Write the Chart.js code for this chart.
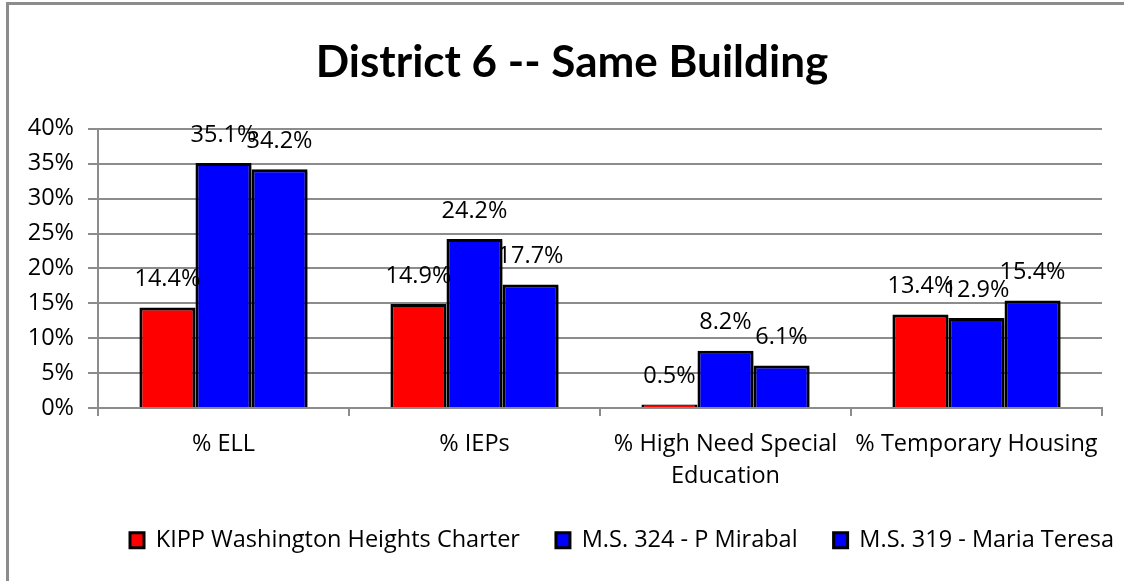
<!DOCTYPE html>
<html>
<head>
<meta charset="utf-8">
<script src="https://cdn.jsdelivr.net/npm/chart.js@4/dist/chart.umd.min.js"></script>
<style>
  body { margin: 0; background: #fff; }
  #wrap { position: relative; width: 1124px; height: 581px; }
  #frame { position: absolute; left: 6px; top: 2px; width: 1200px; height: 700px;
           border-left: 3px solid #8c8c8c; border-top: 3px solid #8c8c8c; }
  canvas { position: absolute; left: 0; top: 0; }
</style>
</head>
<body>
<div id="wrap">
  <div id="frame"></div>
  <canvas id="chart" width="1124" height="581"></canvas>
</div>
<script>
var categories = ["% ELL", "% IEPs", ["% High Need Special", "Education"], "% Temporary Housing"];
var schoolNames = ["KIPP Washington Heights Charter", "M.S. 324 - P Mirabal", "M.S. 319 - Maria Teresa"];
var kippValues = [14.4, 14.9, 0.5, 13.4];
var ms324Values = [35.1, 24.2, 8.2, 12.9];
var ms319Values = [34.2, 17.7, 6.1, 15.4];
var barColors = ["#ff0000", "#0000ff", "#0000ff"];

var fontFamily = "'Open Sans', sans-serif";
var titleFamily = "Lato, sans-serif";
var textSize = 23.5;
var gridGray = "#8c8c8c";

// soft shadow under the bars, then the value above every bar
var valueLabels = {
    id: 'valueLabels',
    beforeDatasetsDraw: function (chart) {
        var ctx = chart.ctx;
        ctx.save();
        ctx.shadowColor = "rgba(0,0,0,0.3)";
        ctx.shadowOffsetX = 3;
        ctx.shadowOffsetY = 2;
        ctx.shadowBlur = 3;
    },
    afterDatasetsDraw: function (chart) {
        var ctx = chart.ctx;
        ctx.restore();
        ctx.save();
        ctx.font = textSize + "px " + fontFamily;
        ctx.fillStyle = "#000";
        ctx.textAlign = "center";
        ctx.textBaseline = "middle";
        chart.data.datasets.forEach(function (ds, i) {
            var meta = chart.getDatasetMeta(i);
            meta.data.forEach(function (bar, j) {
                ctx.fillText(ds.data[j].toFixed(1) + "%", bar.x, bar.y - 28);
            });
        });
        ctx.restore();
    }
};

// nudge title and legend row to the right like the original
var blockShift = {
    id: 'blockShift',
    afterLayout: function (chart) {
        chart.legend.left += 66;
        chart.legend.right += 66;
        chart.titleBlock.left += 16;
        chart.titleBlock.right += 16;
    }
};

var allValues = [kippValues, ms324Values, ms319Values];
var datasets = [];
for (var i = 0; i < schoolNames.length; i++) {
    datasets.push({
        label: schoolNames[i],
        data: allValues[i],
        backgroundColor: barColors[i],
        borderColor: "#000",
        borderWidth: 3,
        borderSkipped: 'bottom',
        barPercentage: 1.0,
        categoryPercentage: 0.67
    });
}

new Chart(document.getElementById("chart"), {
    type: 'bar',
    data: {
        labels: categories,
        datasets: datasets
    },
    plugins: [valueLabels, blockShift],
    options: {
        responsive: false,
        animation: false,
        devicePixelRatio: 1,
        layout: {
            padding: { left: 10, right: 22, top: 0, bottom: 19 }
        },
        plugins: {
            title: {
                display: true,
                text: "District 6 -- Same Building",
                color: "#000",
                font: { family: titleFamily, size: 44, weight: 'bold', lineHeight: 1.2 },
                padding: { top: 36, bottom: 40 }
            },
            legend: {
                position: 'bottom',
                labels: {
                    color: "#000",
                    font: { family: fontFamily, size: textSize },
                    boxWidth: 14,
                    boxHeight: 15,
                    padding: 36
                }
            },
            tooltip: { enabled: false }
        },
        scales: {
            x: {
                grid: {
                    display: true,
                    drawOnChartArea: false,
                    offset: true,
                    color: gridGray,
                    lineWidth: 2,
                    tickLength: 8
                },
                border: { color: gridGray, width: 2 },
                ticks: {
                    color: "#000",
                    font: { family: fontFamily, size: textSize, lineHeight: 1.36 },
                    padding: 12,
                    maxRotation: 0,
                    autoSkip: false
                },
                afterFit: function (scale) { scale.height = 84.5; }
            },
            y: {
                min: 0,
                max: 40,
                grid: {
                    color: gridGray,
                    lineWidth: 2,
                    tickLength: 10
                },
                border: { color: gridGray, width: 2 },
                ticks: {
                    stepSize: 5,
                    color: "#000",
                    font: { family: fontFamily, size: textSize },
                    padding: 14,
                    callback: function (v) { return v + "%"; }
                },
                afterFit: function (scale) { scale.width = 88; }
            }
        }
    }
});
</script>
</body>
</html>
